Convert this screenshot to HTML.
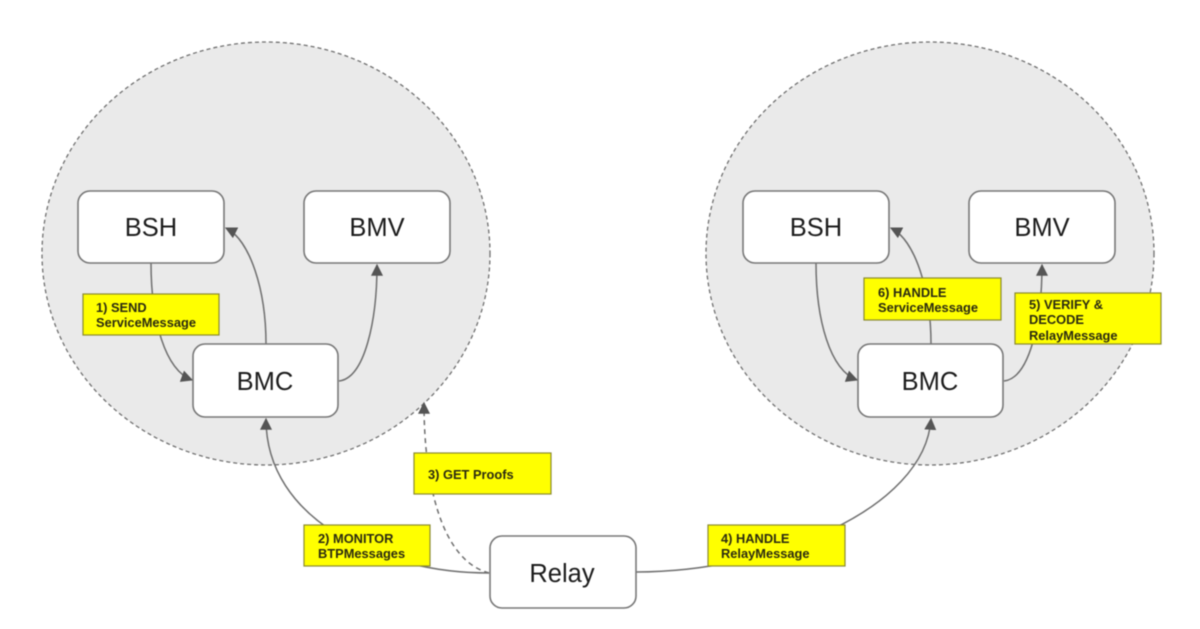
<!DOCTYPE html>
<html>
<head>
<meta charset="utf-8">
<style>
html,body{margin:0;padding:0;background:#fff;}
svg{display:block;filter:blur(0.6px);}
.n{font-family:"Liberation Sans",sans-serif;font-size:25.5px;fill:#1c1c1c;text-anchor:middle;}
.l{font-family:"Liberation Sans",sans-serif;font-size:12.85px;font-weight:bold;fill:#2a2a10;}
.c{fill:#fff;stroke:#777;stroke-width:1.6;}
.y{fill:#ffff00;stroke:#8a8a30;stroke-width:1.2;}
.e{fill:none;stroke:#6f6f6f;stroke-width:1.5;}
</style>
</head>
<body>
<svg width="1200" height="629" viewBox="0 0 1200 629" xmlns="http://www.w3.org/2000/svg">
<defs>
<marker id="a" viewBox="0 0 10 10" refX="9" refY="5" markerWidth="12" markerHeight="12" markerUnits="userSpaceOnUse" orient="auto"><path d="M0 0L10 5L0 10Z" fill="#555"/></marker>
</defs>
<ellipse cx="266" cy="253.5" rx="224" ry="211.5" fill="#eaeaea" stroke="#707070" stroke-width="1.3" stroke-dasharray="4 3"/>
<ellipse cx="930" cy="253.5" rx="224" ry="211.5" fill="#eaeaea" stroke="#707070" stroke-width="1.3" stroke-dasharray="4 3"/>

<path class="e" marker-end="url(#a)" d="M151 263C151 320 165 370 192 380"/>
<path class="e" marker-end="url(#a)" d="M266 344C266 290 250 240 226 228"/>
<path class="e" marker-end="url(#a)" d="M339 381C365 378 377 320 377 265"/>
<path class="e" marker-end="url(#a)" d="M816 263C816 320 830 370 857 380"/>
<path class="e" marker-end="url(#a)" d="M931 344C931 290 915 240 891 228"/>
<path class="e" marker-end="url(#a)" d="M1004 381C1030 378 1042 320 1042 265"/>
<path class="e" marker-end="url(#a)" d="M489 573C380 573 266 520 266 419"/>
<path class="e" stroke-dasharray="5 4" marker-end="url(#a)" d="M489 573C440 560 424 480 424 403"/>
<path class="e" marker-end="url(#a)" d="M636 572C770 572 925 510 931 419"/>

<rect class="c" x="78" y="191" width="146" height="72" rx="12"/>
<rect class="c" x="304" y="191" width="146" height="72" rx="12"/>
<rect class="c" x="193" y="344" width="145" height="73" rx="12"/>
<rect class="c" x="743" y="191" width="146" height="72" rx="12"/>
<rect class="c" x="969" y="191" width="146" height="72" rx="12"/>
<rect class="c" x="858" y="344" width="145" height="73" rx="12"/>
<rect class="c" x="490" y="536" width="146" height="72" rx="12"/>

<text class="n" x="151" y="236">BSH</text>
<text class="n" x="377" y="236">BMV</text>
<text class="n" x="265" y="390">BMC</text>
<text class="n" x="816" y="236">BSH</text>
<text class="n" x="1042" y="236">BMV</text>
<text class="n" x="930" y="390">BMC</text>
<text class="n" x="562" y="582">Relay</text>

<rect class="y" x="83" y="294" width="136" height="41"/>
<text class="l" x="96" y="312">1) SEND</text>
<text class="l" x="96" y="327">ServiceMessage</text>

<rect class="y" x="304" y="525" width="126" height="41"/>
<text class="l" x="318" y="543">2) MONITOR</text>
<text class="l" x="318" y="558">BTPMessages</text>

<rect class="y" x="414" y="453" width="137" height="41"/>
<text class="l" x="428" y="479">3) GET Proofs</text>

<rect class="y" x="708" y="525" width="137" height="41"/>
<text class="l" x="721" y="543">4) HANDLE</text>
<text class="l" x="721" y="558">RelayMessage</text>

<rect class="y" x="1015" y="293" width="146" height="51"/>
<text class="l" x="1029" y="309">5) VERIFY &amp;</text>
<text class="l" x="1029" y="324">DECODE</text>
<text class="l" x="1029" y="340">RelayMessage</text>

<rect class="y" x="864" y="278" width="137" height="42"/>
<text class="l" x="878" y="297">6) HANDLE</text>
<text class="l" x="878" y="312">ServiceMessage</text>
</svg>
</body>
</html>
